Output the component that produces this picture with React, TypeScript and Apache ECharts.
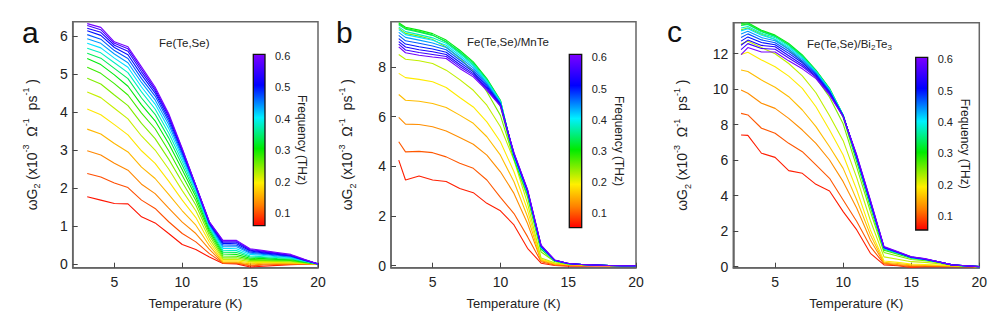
import React, { useEffect, useRef } from "react";
import * as echarts from "echarts";

// ---------- data ----------
const tempsA = [3, 4, 5, 6, 7, 8, 9, 10, 11, 12, 13, 14, 15, 16, 17, 18, 19, 20];
const tempsBC = [2.5, 3, 4, 5, 6, 7, 8, 9, 10, 11, 12, 13, 14, 15, 16, 17, 18, 19, 20];
const freqs = [0.07, 0.10, 0.13, 0.16, 0.19, 0.22, 0.25, 0.28, 0.31, 0.34, 0.38, 0.41, 0.44, 0.47, 0.50, 0.53, 0.56, 0.60];

const seriesA = [
  [1.77, 1.68, 1.59, 1.58, 1.24, 1.08, 0.80, 0.51, 0.38, 0.18, 0.01, 0.00, -0.08, -0.06, -0.04, -0.02, -0.01, 0.00],
  [2.38, 2.29, 2.13, 2.01, 1.68, 1.46, 1.11, 0.80, 0.58, 0.27, 0.02, 0.02, -0.05, -0.03, -0.02, -0.01, 0.00, 0.00],
  [2.98, 2.87, 2.65, 2.47, 2.10, 1.85, 1.47, 1.10, 0.80, 0.38, 0.03, 0.03, -0.03, -0.01, 0.00, 0.00, 0.00, 0.00],
  [3.55, 3.42, 3.17, 2.95, 2.55, 2.25, 1.83, 1.40, 1.02, 0.48, 0.05, 0.05, 0.00, 0.02, 0.02, 0.02, 0.01, 0.00],
  [4.08, 3.93, 3.67, 3.40, 2.98, 2.65, 2.18, 1.68, 1.22, 0.57, 0.08, 0.08, 0.03, 0.04, 0.04, 0.03, 0.01, 0.00],
  [4.53, 4.38, 4.10, 3.82, 3.37, 3.00, 2.50, 1.93, 1.40, 0.66, 0.12, 0.12, 0.06, 0.06, 0.06, 0.05, 0.02, 0.00],
  [4.89, 4.74, 4.45, 4.17, 3.70, 3.30, 2.76, 2.15, 1.55, 0.75, 0.16, 0.16, 0.09, 0.09, 0.08, 0.07, 0.03, 0.00],
  [5.18, 5.02, 4.75, 4.45, 3.97, 3.56, 2.98, 2.33, 1.67, 0.82, 0.21, 0.20, 0.12, 0.11, 0.10, 0.09, 0.04, 0.00],
  [5.41, 5.25, 4.98, 4.68, 4.19, 3.77, 3.17, 2.48, 1.77, 0.88, 0.26, 0.25, 0.15, 0.14, 0.12, 0.11, 0.05, 0.00],
  [5.55, 5.42, 5.15, 4.88, 4.37, 3.94, 3.32, 2.60, 1.85, 0.93, 0.31, 0.30, 0.18, 0.17, 0.14, 0.13, 0.06, 0.00],
  [5.68, 5.56, 5.30, 5.04, 4.53, 4.08, 3.45, 2.70, 1.91, 0.97, 0.36, 0.35, 0.21, 0.19, 0.17, 0.15, 0.07, 0.00],
  [5.81, 5.69, 5.42, 5.18, 4.66, 4.21, 3.57, 2.78, 1.96, 1.00, 0.41, 0.40, 0.25, 0.22, 0.19, 0.17, 0.08, 0.00],
  [5.93, 5.81, 5.53, 5.30, 4.78, 4.32, 3.67, 2.85, 2.00, 1.03, 0.45, 0.45, 0.28, 0.25, 0.21, 0.18, 0.09, 0.00],
  [6.04, 5.92, 5.62, 5.41, 4.88, 4.42, 3.75, 2.91, 2.03, 1.05, 0.50, 0.49, 0.31, 0.27, 0.23, 0.20, 0.10, 0.00],
  [6.14, 6.02, 5.70, 5.51, 4.98, 4.50, 3.82, 2.96, 2.05, 1.07, 0.54, 0.53, 0.34, 0.29, 0.25, 0.21, 0.10, 0.00],
  [6.21, 6.10, 5.76, 5.60, 5.06, 4.56, 3.88, 2.99, 2.06, 1.09, 0.57, 0.57, 0.36, 0.31, 0.27, 0.22, 0.11, 0.00],
  [6.28, 6.17, 5.81, 5.67, 5.13, 4.61, 3.92, 3.02, 2.07, 1.10, 0.60, 0.60, 0.38, 0.33, 0.28, 0.23, 0.11, 0.00],
  [6.33, 6.23, 5.85, 5.72, 5.19, 4.66, 3.96, 3.04, 2.07, 1.11, 0.62, 0.62, 0.40, 0.35, 0.30, 0.25, 0.12, 0.00],
];

const seriesB = [
  [4.25, 3.45, 3.61, 3.45, 3.39, 3.11, 2.94, 2.51, 2.21, 1.64, 0.70, 0.10, 0.01, -0.02, -0.02, -0.01, -0.01, 0.00, 0.00],
  [4.99, 4.58, 4.60, 4.55, 4.38, 4.12, 3.92, 3.45, 2.75, 2.10, 1.17, 0.16, 0.03, 0.00, 0.00, 0.00, 0.00, 0.00, 0.00],
  [5.97, 5.70, 5.68, 5.59, 5.42, 5.16, 4.89, 4.45, 3.78, 2.91, 1.70, 0.20, 0.06, 0.03, 0.02, 0.01, 0.00, 0.00, 0.00],
  [6.89, 6.66, 6.62, 6.53, 6.37, 6.06, 5.73, 5.19, 4.45, 3.38, 1.97, 0.23, 0.08, 0.04, 0.03, 0.02, 0.01, 0.00, 0.00],
  [7.74, 7.57, 7.50, 7.40, 7.17, 6.77, 6.39, 5.79, 4.99, 3.78, 2.24, 0.26, 0.10, 0.05, 0.03, 0.02, 0.01, 0.00, 0.00],
  [8.50, 8.31, 8.25, 8.14, 7.87, 7.49, 7.06, 6.46, 5.59, 4.25, 2.51, 0.31, 0.12, 0.06, 0.04, 0.02, 0.01, 0.00, 0.00],
  [9.55, 9.35, 9.24, 9.10, 8.80, 8.35, 7.80, 7.00, 6.05, 4.28, 2.75, 0.55, 0.17, 0.07, 0.04, 0.02, 0.01, 0.00, 0.00],
  [9.74, 9.55, 9.43, 9.28, 9.00, 8.58, 8.08, 7.35, 6.40, 4.30, 2.85, 0.66, 0.19, 0.08, 0.05, 0.03, 0.01, 0.00, 0.00],
  [9.78, 9.60, 9.48, 9.34, 9.08, 8.67, 8.20, 7.53, 6.66, 4.35, 2.90, 0.70, 0.20, 0.08, 0.05, 0.03, 0.01, 0.00, 0.00],
  [9.70, 9.52, 9.40, 9.27, 9.02, 8.61, 8.15, 7.49, 6.64, 4.37, 2.91, 0.71, 0.20, 0.08, 0.05, 0.03, 0.01, 0.00, 0.00],
  [9.61, 9.42, 9.30, 9.17, 8.95, 8.54, 8.09, 7.45, 6.62, 4.39, 2.93, 0.72, 0.21, 0.08, 0.05, 0.03, 0.01, 0.00, 0.00],
  [9.50, 9.30, 9.19, 9.07, 8.87, 8.46, 8.03, 7.39, 6.59, 4.41, 2.95, 0.74, 0.21, 0.08, 0.05, 0.03, 0.01, 0.00, 0.00],
  [9.39, 9.19, 9.08, 8.96, 8.78, 8.38, 7.96, 7.34, 6.56, 4.43, 2.97, 0.76, 0.21, 0.09, 0.05, 0.03, 0.01, 0.00, 0.00],
  [9.27, 9.05, 8.95, 8.84, 8.69, 8.28, 7.88, 7.28, 6.53, 4.46, 2.99, 0.77, 0.22, 0.09, 0.05, 0.03, 0.01, 0.00, 0.00],
  [9.14, 8.92, 8.81, 8.72, 8.59, 8.19, 7.80, 7.22, 6.50, 4.48, 3.01, 0.79, 0.22, 0.09, 0.05, 0.03, 0.01, 0.00, 0.00],
  [9.02, 8.80, 8.69, 8.61, 8.50, 8.10, 7.73, 7.16, 6.47, 4.51, 3.03, 0.80, 0.22, 0.09, 0.05, 0.03, 0.01, 0.00, 0.00],
  [8.92, 8.68, 8.58, 8.50, 8.42, 8.02, 7.67, 7.11, 6.45, 4.53, 3.05, 0.82, 0.23, 0.09, 0.05, 0.03, 0.01, 0.00, 0.00],
  [8.81, 8.57, 8.47, 8.40, 8.34, 7.94, 7.60, 7.06, 6.42, 4.55, 3.07, 0.83, 0.23, 0.09, 0.05, 0.03, 0.01, 0.00, 0.00],
];

const seriesC = [
  [7.42, 7.40, 6.39, 6.16, 5.41, 5.26, 4.64, 4.26, 3.10, 2.07, 0.75, 0.10, 0.05, -0.05, 0.00, 0.00, 0.00, 0.00, 0.00],
  [8.64, 8.55, 7.80, 7.52, 6.95, 6.48, 5.73, 4.98, 3.76, 2.54, 1.13, 0.16, 0.08, 0.00, 0.03, 0.02, 0.01, 0.00, 0.00],
  [9.95, 9.77, 9.21, 8.92, 8.36, 7.70, 6.95, 6.01, 4.79, 3.29, 1.50, 0.20, 0.12, 0.05, 0.05, 0.04, 0.02, 0.01, 0.00],
  [11.08, 11.00, 10.52, 10.11, 9.58, 8.83, 7.89, 6.76, 5.54, 3.76, 1.79, 0.25, 0.18, 0.10, 0.08, 0.06, 0.04, 0.02, 0.00],
  [11.96, 12.08, 11.65, 11.27, 10.74, 10.05, 9.01, 7.70, 6.29, 4.32, 2.07, 0.32, 0.24, 0.15, 0.12, 0.09, 0.05, 0.03, 0.00],
  [12.55, 12.70, 12.35, 12.00, 11.45, 10.75, 9.80, 8.50, 7.10, 5.00, 2.60, 0.55, 0.42, 0.28, 0.24, 0.16, 0.06, 0.02, 0.00],
  [13.35, 13.45, 13.10, 12.80, 12.25, 11.55, 10.65, 9.55, 8.05, 5.60, 3.10, 0.80, 0.60, 0.40, 0.33, 0.22, 0.08, 0.03, 0.00],
  [13.62, 13.68, 13.28, 13.00, 12.50, 11.82, 10.95, 9.90, 8.40, 5.90, 3.35, 0.92, 0.70, 0.47, 0.38, 0.25, 0.09, 0.04, 0.00],
  [13.71, 13.75, 13.33, 13.05, 12.58, 11.93, 11.08, 10.05, 8.55, 6.05, 3.50, 1.00, 0.75, 0.50, 0.40, 0.26, 0.10, 0.04, 0.00],
  [13.59, 13.65, 13.24, 12.98, 12.51, 11.88, 11.05, 10.02, 8.54, 6.07, 3.52, 1.01, 0.76, 0.50, 0.40, 0.26, 0.10, 0.04, 0.00],
  [13.45, 13.54, 13.15, 12.91, 12.43, 11.81, 11.01, 9.99, 8.54, 6.09, 3.54, 1.02, 0.77, 0.51, 0.40, 0.26, 0.10, 0.04, 0.00],
  [13.29, 13.41, 13.04, 12.82, 12.35, 11.74, 10.97, 9.96, 8.53, 6.11, 3.56, 1.03, 0.78, 0.51, 0.41, 0.26, 0.10, 0.04, 0.00],
  [13.11, 13.27, 12.91, 12.73, 12.25, 11.67, 10.92, 9.92, 8.52, 6.13, 3.59, 1.05, 0.79, 0.52, 0.41, 0.27, 0.10, 0.04, 0.00],
  [12.92, 13.12, 12.78, 12.62, 12.14, 11.58, 10.86, 9.88, 8.51, 6.16, 3.62, 1.06, 0.80, 0.53, 0.42, 0.27, 0.10, 0.05, 0.00],
  [12.71, 12.95, 12.63, 12.51, 12.02, 11.49, 10.81, 9.83, 8.49, 6.19, 3.65, 1.08, 0.81, 0.53, 0.42, 0.27, 0.10, 0.05, 0.00],
  [12.48, 12.77, 12.47, 12.39, 11.89, 11.38, 10.74, 9.78, 8.48, 6.22, 3.68, 1.09, 0.82, 0.54, 0.43, 0.27, 0.10, 0.05, 0.00],
  [12.23, 12.57, 12.30, 12.25, 11.76, 11.28, 10.68, 9.73, 8.47, 6.25, 3.72, 1.11, 0.83, 0.55, 0.44, 0.28, 0.10, 0.05, 0.00],
  [11.95, 12.35, 12.10, 12.10, 11.60, 11.15, 10.60, 9.67, 8.45, 6.29, 3.76, 1.13, 0.85, 0.56, 0.45, 0.28, 0.10, 0.05, 0.00],
];

const xTicks = [5, 10, 15, 20];
const yTicksA = [0, 1, 2, 3, 4, 5, 6];
const yTicksB = [0, 2, 4, 6, 8];
const yTicksC = [0, 2, 4, 6, 8, 10, 12];
const cbTicks = [0.1, 0.2, 0.3, 0.4, 0.5, 0.6];
const cbRangeA = [0.06, 0.605];
const cbRangeB = [0.054, 0.61];
const cbRangeC = [0.055, 0.606];
const titles = ["Fe(Te,Se)", "Fe(Te,Se)/MnTe", "{n|Fe(Te,Se)/Bi}{s|2}{n|Te}{s|3}"];
const letters = ["a", "b", "c"];
const xName = "Temperature (K)";
const yName = "{m|ωG}{sub|2}{m| (x10}{sup|-3}{m|  Ω}{sup|-1}{m|  ps}{sup|-1}{m| )}";
const cbName = "Frequency (THz)";

// ---------- style ----------
const FONT = "'Liberation Sans', Arial, sans-serif";
const TXT = "#222";
const FRAME = "#666";
const CMAP: number[][] = [
  [0, 255, 0, 0],
  [0.12, 255, 128, 0],
  [0.25, 255, 240, 0],
  [0.45, 0, 235, 0],
  [0.63, 0, 240, 255],
  [0.82, 0, 0, 255],
  [1, 125, 0, 255],
];
function cmap(t: number): string {
  const u = Math.max(0, Math.min(1, t));
  for (let i = 0; i < CMAP.length - 1; i++) {
    const a = CMAP[i];
    const b = CMAP[i + 1];
    if (u <= b[0]) {
      const k = (u - a[0]) / (b[0] - a[0]);
      const c = [1, 2, 3].map((j) => Math.round(a[j] + (b[j] - a[j]) * k));
      return `rgb(${c[0]},${c[1]},${c[2]})`;
    }
  }
  const l = CMAP[CMAP.length - 1];
  return `rgb(${l[1]},${l[2]},${l[3]})`;
}

const panels = [
  {
    grid: { left: 72.7, top: 21.7, width: 245.3, height: 246 },
    yMin: -0.1, yMax: 6.38, yTicks: yTicksA, yGap: 31, temps: tempsA, data: seriesA,
    cb: { left: 253.3, top: 54.3, width: 11.7, height: 171.4 }, cbRange: cbRangeA,
    letter: { x: 22, y: 32 }, title: { x: 159, y: 42.5 },
  },
  {
    grid: { left: 391, top: 21.7, width: 245, height: 246 },
    yMin: -0.08, yMax: 9.82, yTicks: yTicksB, yGap: 34, temps: tempsBC, data: seriesB,
    cb: { left: 569.3, top: 54.3, width: 12.4, height: 173.4 }, cbRange: cbRangeB,
    letter: { x: 336, y: 32 }, title: { x: 467, y: 41.7 },
  },
  {
    grid: { left: 733.3, top: 22.7, width: 246, height: 245 },
    yMin: -0.06, yMax: 13.75, yTicks: yTicksC, yGap: 41, temps: tempsBC, data: seriesC,
    cb: { left: 915.7, top: 57.3, width: 12, height: 172.7 }, cbRange: cbRangeC,
    letter: { x: 667, y: 31 }, title: { x: 807, y: 44 },
  },
];

function buildOption() {
  const grid: any[] = [];
  const xAxis: any[] = [];
  const yAxis: any[] = [];
  const series: any[] = [];
  const graphic: any[] = [];

  panels.forEach((p, i) => {
    grid.push({ ...p.grid, show: true, borderColor: FRAME, borderWidth: 1.5, backgroundColor: "transparent" });
    xAxis.push({
      type: "value", gridIndex: i, min: 1.93, max: 20,
      axisLine: { show: true, onZero: false, lineStyle: { color: FRAME, width: 1.5 } },
      axisTick: { show: true, inside: true, length: 5, customValues: xTicks, lineStyle: { color: "#444" } },
      axisLabel: { show: true, customValues: xTicks, margin: 7, fontSize: 14, color: TXT, fontFamily: FONT },
      splitLine: { show: false },
      name: xName, nameLocation: "middle", nameGap: 29,
      nameTextStyle: { fontSize: 13, color: TXT, fontFamily: FONT },
    });
    yAxis.push({
      type: "value", gridIndex: i, min: p.yMin, max: p.yMax,
      axisLine: { show: true, onZero: false, lineStyle: { color: FRAME, width: 1.5 } },
      axisTick: { show: true, inside: true, length: 5, customValues: p.yTicks, lineStyle: { color: "#444" } },
      axisLabel: { show: true, customValues: p.yTicks, margin: 5, fontSize: 14, color: TXT, fontFamily: FONT },
      splitLine: { show: false },
      name: yName, nameLocation: "middle", nameRotate: 90, nameGap: p.yGap,
      nameTextStyle: {
        color: TXT, fontFamily: FONT,
        rich: {
          m: { fontSize: 14, lineHeight: 20, color: TXT, fontFamily: FONT },
          sub: { fontSize: 9, lineHeight: 9, verticalAlign: "bottom", color: TXT, fontFamily: FONT },
          sup: { fontSize: 9, lineHeight: 9, verticalAlign: "top", color: TXT, fontFamily: FONT },
        },
      },
    });
    p.data.forEach((row, j) => {
      const t = (freqs[j] - p.cbRange[0]) / (p.cbRange[1] - p.cbRange[0]);
      const color = cmap(t);
      series.push({
        type: "line", xAxisIndex: i, yAxisIndex: i,
        data: p.temps.map((T, k) => [T, row[k]]),
        showSymbol: false, symbol: "none", silent: true,
        lineStyle: { width: 1.1, color }, itemStyle: { color }, z: 2,
      });
    });
    // title + letter
    graphic.push({
      type: "text", x: p.letter.x, y: p.letter.y,
      style: { text: letters[i], fontSize: 30, fontFamily: FONT, fill: "#111", verticalAlign: "middle", align: "left" },
    });
    graphic.push({
      type: "text", x: p.title.x, y: p.title.y,
      style: {
        text: titles[i], fontSize: 11.5, fontFamily: FONT, fill: TXT, verticalAlign: "middle", align: "left",
        rich: {
          n: { fontSize: 11.5, fontFamily: FONT, fill: TXT, lineHeight: 14 },
          s: { fontSize: 8, fontFamily: FONT, fill: TXT, lineHeight: 8, verticalAlign: "bottom" },
        },
      },
    });
  });

  panels.forEach((p, i) => {
    const gi = 3 + i;
    grid.push({ ...p.cb, show: false });
    xAxis.push({ type: "value", gridIndex: gi, min: 0, max: 1, show: false });
    yAxis.push({
      type: "value", gridIndex: gi, position: "right", min: p.cbRange[0], max: p.cbRange[1],
      axisLine: { show: false },
      axisTick: { show: true, inside: false, length: 5, customValues: cbTicks, lineStyle: { color: "#000", width: 1.2 } },
      axisLabel: {
        show: true, customValues: cbTicks, margin: 10, fontSize: 11, color: TXT, fontFamily: FONT,
        formatter: (v: number) => v.toFixed(1),
      },
      splitLine: { show: false },
      name: cbName, nameLocation: "middle", nameRotate: -90, nameGap: 31,
      nameTextStyle: { fontSize: 12, color: TXT, fontFamily: FONT },
    });
    const stops = CMAP.map((s) => ({ offset: 1 - s[0], color: cmap(s[0]) })).sort((a, b) => a.offset - b.offset);
    series.push({
      type: "custom", xAxisIndex: gi, yAxisIndex: gi, silent: true, z: 5,
      data: [[0, p.cbRange[0], 1, p.cbRange[1]]],
      renderItem: (params: any, api: any) => {
        const p0 = api.coord([api.value(0), api.value(3)]);
        const p1 = api.coord([api.value(2), api.value(1)]);
        return {
          type: "rect",
          shape: { x: p0[0], y: p0[1], width: p1[0] - p0[0], height: p1[1] - p0[1] },
          style: { fill: new echarts.graphic.LinearGradient(0, 0, 0, 1, stops), stroke: "#111", lineWidth: 1.3 },
        };
      },
    });
  });

  return {
    animation: false,
    backgroundColor: "#fff",
    textStyle: { fontFamily: FONT },
    grid, xAxis, yAxis, series, graphic,
  };
}

export default function App() {
  const ref = useRef<HTMLDivElement>(null);
  useEffect(() => {
    if (!ref.current) return;
    const chart = echarts.init(ref.current, undefined, { renderer: "svg" });
    chart.setOption(buildOption() as any);
    return () => chart.dispose();
  }, []);
  return (
    <div
      ref={ref}
      style={{ position: "fixed", left: 0, top: 0, width: 997, height: 318, background: "#fff" }}
    />
  );
}
